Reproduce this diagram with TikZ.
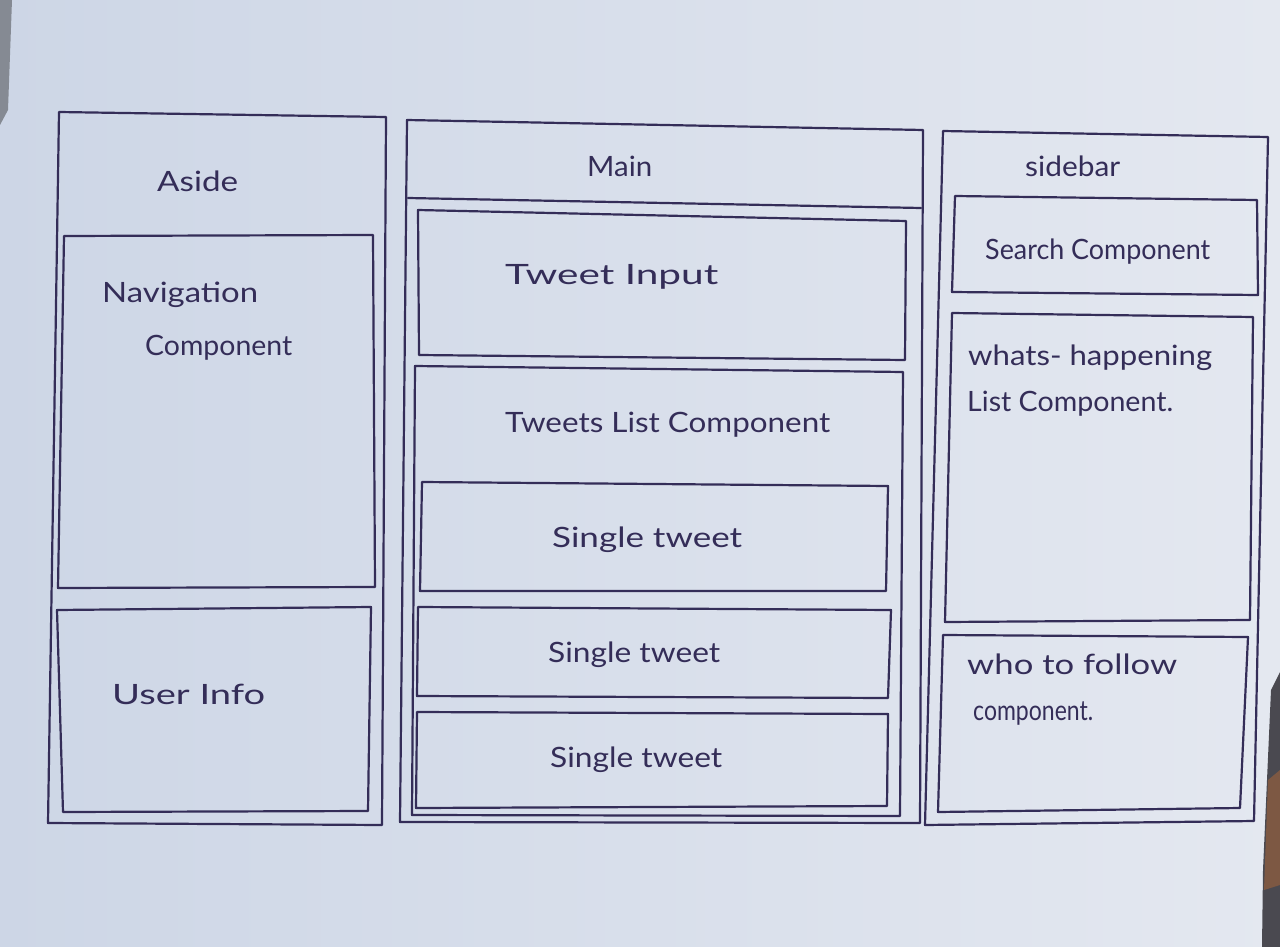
\documentclass[tikz,border=0pt]{standalone}
\usepackage{fontspec}
\usepackage{graphicx}
\setmainfont{Lato}
\definecolor{paperL}{HTML}{CDD6E6}
\definecolor{paperR}{HTML}{E4E8F0}
\definecolor{ink}{HTML}{342D58}
\definecolor{edge}{HTML}{858A93}
\definecolor{shadow}{HTML}{4A4950}
\definecolor{wood}{HTML}{8A5C40}

% hand-lettered label: fixed size, stretched to a given width (in pt)
\newsavebox\hwbox
\newcommand\hwtext[2]{\sbox\hwbox{#2}\pgfmathsetmacro\hwsx{#1/\the\wd\hwbox}\scalebox{\hwsx}[1]{\usebox\hwbox}}

\tikzset{
  pen/.style={draw=ink, line width=2.2pt, line join=round, line cap=round},
  label/.style={anchor=base west, inner sep=0pt, text=ink, font=\fontsize{28}{32}\selectfont}
}

\begin{document}
\begin{tikzpicture}[x=1pt,y=-1pt]
  % sheet of paper
  \shade[left color=paperL, right color=paperR] (0,0) rectangle (1280,947);
  \useasboundingbox (0,0) rectangle (1280,947);
  \fill[edge] (0,0) -- (12,0) -- (8,110) -- (0,125) -- cycle;
  \fill[shadow] (1271,690) -- (1280,672) -- (1280,947) -- (1262,947) -- (1263,870) -- cycle;
  \fill[wood, opacity=0.8] (1268,780) -- (1280,770) -- (1280,885) -- (1264,890) -- cycle;

  % ---- Aside column ----
  \draw[pen] (59,112) -- (386,117) -- (382,825) -- (48,823) -- cycle;
  \draw[pen] (64,236) -- (373,235) -- (375,587) -- (58,588) -- cycle;
  \draw[pen] (57,610) -- (371,607) -- (368,811) -- (63,812) -- cycle;
  \node[label] (aside) at (157,191) {\hwtext{81}{Aside}};
  \node[label] (nav1) at (102,302) {\hwtext{156}{Navigation}};
  \node[label] (nav2) at (145,355) {\hwtext{147}{Component}};
  \node[label] (user) at (112,704) {\hwtext{153}{User Info}};

  % ---- Main column ----
  \draw[pen] (407,120) -- (923,130) -- (920,823) -- (400,822) -- cycle;
  \draw[pen] (408,198) -- (921,208);
  \draw[pen] (418,210) -- (906,221) -- (905,360) -- (419,355) -- cycle;
  \draw[pen] (415,366) -- (903,372) -- (900,816) -- (412,815) -- cycle;
  \draw[pen] (422,482) -- (888,486) -- (886,591) -- (420,591) -- cycle;
  \draw[pen] (418,607) -- (891,610) -- (888,698) -- (417,696) -- cycle;
  \draw[pen] (417,712) -- (888,714) -- (887,806) -- (416,808) -- cycle;
  \node[label] (main) at (587,177) {\hwtext{65}{Main}};
  \node[label] (input) at (505,284) {\hwtext{213}{Tweet Input}};
  \node[label] (list) at (505,432) {\hwtext{325}{Tweets List Component}};
  \node[label] (tw1) at (552,547) {\hwtext{190}{Single tweet}};
  \node[label] (tw2) at (548,662) {\hwtext{172}{Single tweet}};
  \node[label] (tw3) at (550,767) {\hwtext{172}{Single tweet}};

  % ---- Sidebar column ----
  \draw[pen] (943,131) -- (1268,137) -- (1254,821) -- (925,825) -- cycle;
  \draw[pen] (955,196) -- (1257,200) -- (1258,295) -- (952,292) -- cycle;
  \draw[pen] (952,313) -- (1253,317) -- (1250,620) -- (945,622) -- cycle;
  \draw[pen] (943,635) -- (1248,637) -- (1240,808) -- (938,812) -- cycle;
  \node[label] (side) at (1025,176) {\hwtext{95}{sidebar}};
  \node[label] (search) at (985,259) {\hwtext{225}{Search Component}};
  \node[label] (what1) at (968,365) {\hwtext{244}{whats- happening}};
  \node[label] (what2) at (967,411) {\hwtext{206}{List Component.}};
  \node[label] (follow1) at (967,674) {\hwtext{210}{who to follow}};
  \node[label] (follow2) at (973,720) {\hwtext{120}{component.}};
\end{tikzpicture}
\end{document}
